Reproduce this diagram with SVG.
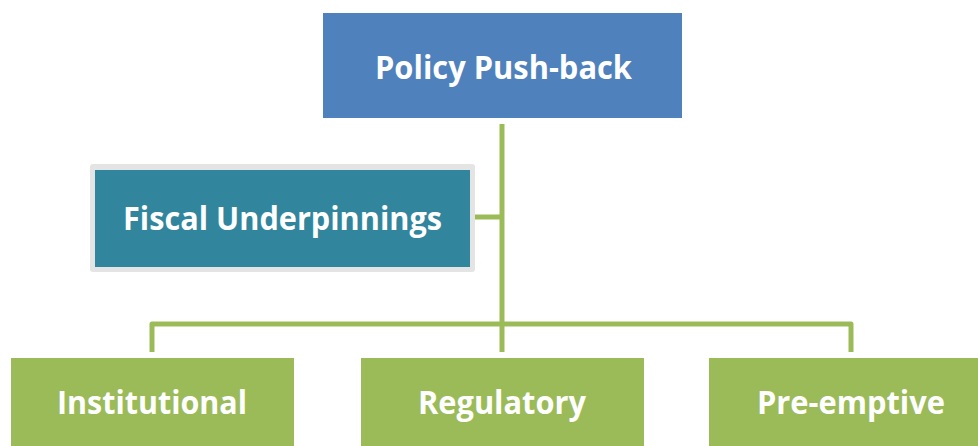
<svg xmlns="http://www.w3.org/2000/svg" width="978" height="446" viewBox="0 0 978 446">
<style>
.lbl{font-family:"Open Sans","Liberation Sans",sans-serif;font-weight:bold;font-size:32px;fill:#ffffff;text-anchor:middle}
.conn{stroke:#9BBB59;stroke-width:5;fill:none;stroke-linejoin:round;stroke-linecap:butt}
.green{fill:#9BBB59}
</style>
<rect width="978" height="446" fill="#ffffff"/>
<g id="connectors">
<path class="conn" d="M502 124 V352"/>
<path class="conn" d="M475 217 H502"/>
<path class="conn" d="M152 352 V324 H851 V352"/>
</g>
<g id="policy">
<rect x="323" y="13" width="359" height="105" fill="#4F81BD"/>
<text class="lbl" x="503.5" y="79" textLength="257" lengthAdjust="spacingAndGlyphs">Policy Push-back</text>
</g>
<g id="fiscal">
<rect x="90" y="164" width="385" height="108" rx="3" fill="#E4E4E4"/>
<rect x="95" y="170" width="375" height="97" fill="#31859C"/>
<text class="lbl" x="282.5" y="230" textLength="319" lengthAdjust="spacingAndGlyphs">Fiscal Underpinnings</text>
</g>
<g id="institutional">
<rect class="green" x="11" y="358" width="283" height="100"/>
<text class="lbl" x="152" y="414" textLength="190" lengthAdjust="spacingAndGlyphs">Institutional</text>
</g>
<g id="regulatory">
<rect class="green" x="361" y="358" width="283" height="100"/>
<text class="lbl" x="502" y="414" textLength="168" lengthAdjust="spacingAndGlyphs">Regulatory</text>
</g>
<g id="preemptive">
<rect class="green" x="709" y="358" width="283" height="100"/>
<text class="lbl" x="851" y="414" textLength="188" lengthAdjust="spacingAndGlyphs">Pre-emptive</text>
</g>
</svg>
